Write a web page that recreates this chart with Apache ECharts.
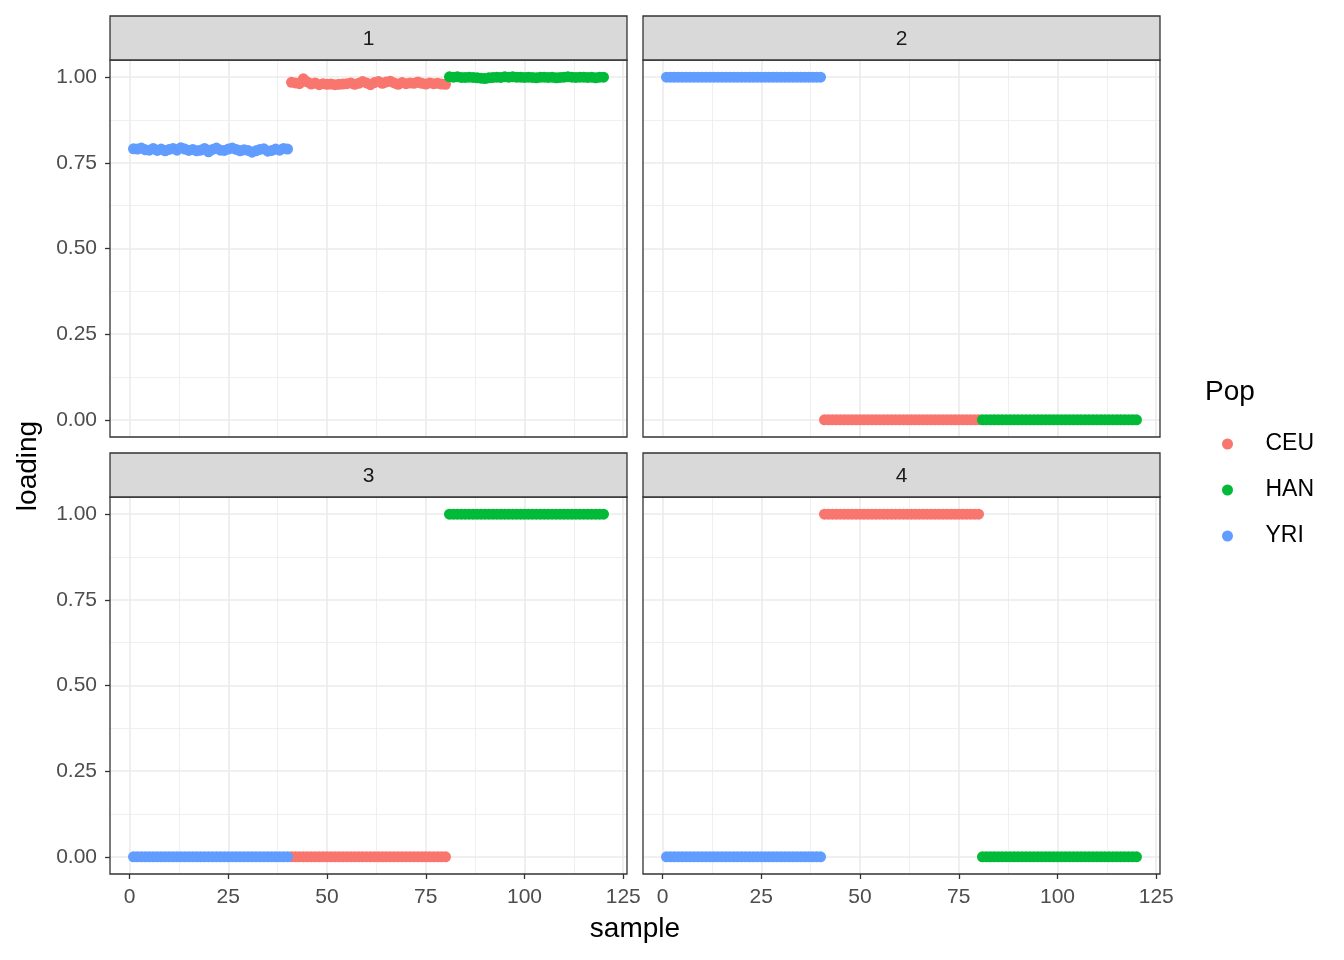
<!DOCTYPE html>
<html>
<head>
<meta charset="utf-8">
<script src="https://cdn.jsdelivr.net/npm/echarts@6/dist/echarts.min.js"></script>
<style>
html,body{margin:0;padding:0;background:#fff;}
#chart{width:1344px;height:960px;}
</style>
</head>
<body>
<div id="chart"></div>
<script>
// ---- data ----
const populations = ['CEU', 'HAN', 'YRI'];
const popColors = { CEU: '#F8766D', HAN: '#00BA38', YRI: '#619CFF' };
const panelNames = ['1', '2', '3', '4'];
// first sample number of each population
const popStart = { YRI: 1, CEU: 41, HAN: 81 };

// Panel 1 loadings
const yri1 = [0.791,0.790,0.793,0.788,0.787,0.792,0.786,0.790,0.785,0.789,0.792,0.787,0.794,0.790,0.786,0.789,0.785,0.787,0.792,0.782,0.789,0.793,0.787,0.786,0.790,0.793,0.789,0.785,0.788,0.786,0.781,0.785,0.789,0.791,0.784,0.786,0.790,0.787,0.792,0.790];
const ceu1 = [0.985,0.983,0.981,0.995,0.986,0.980,0.983,0.978,0.981,0.979,0.980,0.978,0.979,0.980,0.981,0.983,0.979,0.982,0.987,0.983,0.978,0.984,0.987,0.982,0.986,0.988,0.983,0.979,0.984,0.981,0.983,0.982,0.986,0.982,0.980,0.983,0.981,0.982,0.980,0.979];
const han1 = [1.001,1.000,1.001,0.999,0.999,1.000,0.999,0.998,0.997,0.996,0.998,0.999,1.000,0.999,1.001,1.000,1.001,1.000,1.000,0.999,1.000,0.999,0.998,1.000,1.000,0.999,1.000,0.998,0.999,1.000,1.001,1.000,0.999,1.000,1.000,0.999,1.000,0.998,1.000,1.000];
// Panel 2 loadings
const yri2 = [1,1,1,1,1,1,1,1,1,1,1,1,1,1,1,1,1,1,1,1,1,1,1,1,1,1,1,1,1,1,1,1,1,1,1,1,1,1,1,1];
const ceu2 = [0,0,0,0,0,0,0,0,0,0,0,0,0,0,0,0,0,0,0,0,0,0,0,0,0,0,0,0,0,0,0,0,0,0,0,0,0,0,0,0];
const han2 = [0,0,0,0,0,0,0,0,0,0,0,0,0,0,0,0,0,0,0,0,0,0,0,0,0,0,0,0,0,0,0,0,0,0,0,0,0,0,0,0];
// Panel 3 loadings
const yri3 = [0,0,0,0,0,0,0,0,0,0,0,0,0,0,0,0,0,0,0,0,0,0,0,0,0,0,0,0,0,0,0,0,0,0,0,0,0,0,0,0];
const ceu3 = [0,0,0,0,0,0,0,0,0,0,0,0,0,0,0,0,0,0,0,0,0,0,0,0,0,0,0,0,0,0,0,0,0,0,0,0,0,0,0,0];
const han3 = [1,1,1,1,1,1,1,1,1,1,1,1,1,1,1,1,1,1,1,1,1,1,1,1,1,1,1,1,1,1,1,1,1,1,1,1,1,1,1,1];
// Panel 4 loadings
const yri4 = [0,0,0,0,0,0,0,0,0,0,0,0,0,0,0,0,0,0,0,0,0,0,0,0,0,0,0,0,0,0,0,0,0,0,0,0,0,0,0,0];
const ceu4 = [1,1,1,1,1,1,1,1,1,1,1,1,1,1,1,1,1,1,1,1,1,1,1,1,1,1,1,1,1,1,1,1,1,1,1,1,1,1,1,1];
const han4 = [0,0,0,0,0,0,0,0,0,0,0,0,0,0,0,0,0,0,0,0,0,0,0,0,0,0,0,0,0,0,0,0,0,0,0,0,0,0,0,0];

const panelData = [
  { CEU: ceu1, HAN: han1, YRI: yri1 },
  { CEU: ceu2, HAN: han2, YRI: yri2 },
  { CEU: ceu3, HAN: han3, YRI: yri3 },
  { CEU: ceu4, HAN: han4, YRI: yri4 }
];

const xTicks = [0, 25, 50, 75, 100, 125];
const xMinor = [12.5, 37.5, 62.5, 87.5, 112.5];
const yTicks = [0, 0.25, 0.5, 0.75, 1];
const yMinor = [0.125, 0.375, 0.625, 0.875];

// ---- layout ----
const PW = 517, PH = 377;
const panels = [
  { left: 110, top: 60, showX: false, showY: true },
  { left: 643, top: 60, showX: false, showY: false },
  { left: 110, top: 497, showX: true, showY: true },
  { left: 643, top: 497, showX: true, showY: false }
];
const XMIN = -4.95, XMAX = 125.95, YMIN = -0.05, YMAX = 1.05;
const FONT = '"Liberation Sans", Arial, sans-serif';
const tickColor = '#333333';
const labelColor = '#4D4D4D';

const grids = [], xAxes = [], yAxes = [], series = [], graphics = [];

panels.forEach((p, i) => {
  grids.push({ left: p.left, top: p.top, width: PW, height: PH, show: false, containLabel: false });
  // major x
  xAxes.push({
    gridIndex: i, type: 'value', min: XMIN, max: XMAX, position: 'bottom',
    axisLine: { show: false, onZero: false },
    axisTick: { show: p.showX, length: 5, lineStyle: { color: tickColor, width: 1.3 }, customValues: xTicks },
    axisLabel: { show: p.showX, customValues: xTicks, color: labelColor, fontSize: 21, fontFamily: FONT, margin: 13 },
    splitLine: { show: true, lineStyle: { color: '#EBEBEB', width: 1.6 } }
  });
  // minor x
  xAxes.push({
    gridIndex: i, type: 'value', min: XMIN, max: XMAX, position: 'bottom',
    axisLine: { show: false, onZero: false },
    axisTick: { show: false, customValues: xMinor },
    axisLabel: { show: false, customValues: xMinor },
    splitLine: { show: true, lineStyle: { color: '#EBEBEB', width: 0.8 } }
  });
  yAxes.push({
    gridIndex: i, type: 'value', min: YMIN, max: YMAX, position: 'left',
    axisLine: { show: false, onZero: false },
    axisTick: { show: p.showY, length: 5, lineStyle: { color: tickColor, width: 1.3 }, customValues: yTicks },
    axisLabel: { show: p.showY, customValues: yTicks, color: labelColor, fontSize: 21, fontFamily: FONT, margin: 13,
      formatter: v => Number(v).toFixed(2) },
    splitLine: { show: true, lineStyle: { color: '#EBEBEB', width: 1.6 } }
  });
  yAxes.push({
    gridIndex: i, type: 'value', min: YMIN, max: YMAX, position: 'left',
    axisLine: { show: false, onZero: false },
    axisTick: { show: false, customValues: yMinor },
    axisLabel: { show: false, customValues: yMinor },
    splitLine: { show: true, lineStyle: { color: '#EBEBEB', width: 0.8 } }
  });

  populations.forEach(pop => {
    const vals = panelData[i][pop];
    series.push({
      name: pop, type: 'scatter', xAxisIndex: 2 * i, yAxisIndex: 2 * i,
      symbol: 'circle', symbolSize: 11, itemStyle: { color: popColors[pop], opacity: 1 },
      emphasis: { disabled: true }, silent: true, z: 3,
      data: vals.map((v, k) => [popStart[pop] + k, v])
    });
  });

  // panel border
  graphics.push({ type: 'rect', x: p.left, y: p.top, z: 100, silent: true,
    shape: { x: 0, y: 0, width: PW, height: PH }, style: { fill: null, stroke: '#333333', lineWidth: 1.3 } });
  // strip
  graphics.push({ type: 'rect', x: p.left, y: p.top - 44, z: 100, silent: true,
    shape: { x: 0, y: 0, width: PW, height: 44 }, style: { fill: '#D9D9D9', stroke: '#333333', lineWidth: 1.3 } });
  graphics.push({ type: 'text', x: p.left + PW / 2, y: p.top - 21, z: 101, silent: true,
    style: { text: panelNames[i], fill: '#1A1A1A', font: '21px ' + FONT, align: 'center', verticalAlign: 'middle' } });
});

// axis titles
graphics.push({ type: 'text', x: 635, y: 929, z: 101, silent: true,
  style: { text: 'sample', fill: '#000', font: '28px ' + FONT, align: 'center', verticalAlign: 'middle' } });
graphics.push({ type: 'text', x: 28, y: 466, rotation: Math.PI / 2, z: 101, silent: true,
  style: { text: 'loading', fill: '#000', font: '28px ' + FONT, align: 'center', verticalAlign: 'middle' } });
// legend title
graphics.push({ type: 'text', x: 1205, y: 392, z: 101, silent: true,
  style: { text: 'Pop', fill: '#000', font: '28px ' + FONT, align: 'left', verticalAlign: 'middle' } });

const chart = echarts.init(document.getElementById('chart'), null, { renderer: 'canvas' });
chart.setOption({
  animation: false,
  backgroundColor: '#ffffff',
  grid: grids,
  xAxis: xAxes,
  yAxis: yAxes,
  series: series,
  legend: {
    data: populations, orient: 'vertical', left: 1217, top: 427,
    icon: 'circle', itemWidth: 66, itemHeight: 11, itemGap: 22,
    textStyle: { color: '#000', fontSize: 23, fontFamily: FONT, lineHeight: 24 },
    selectedMode: false
  },
  graphic: graphics
});
</script>
</body>
</html>
